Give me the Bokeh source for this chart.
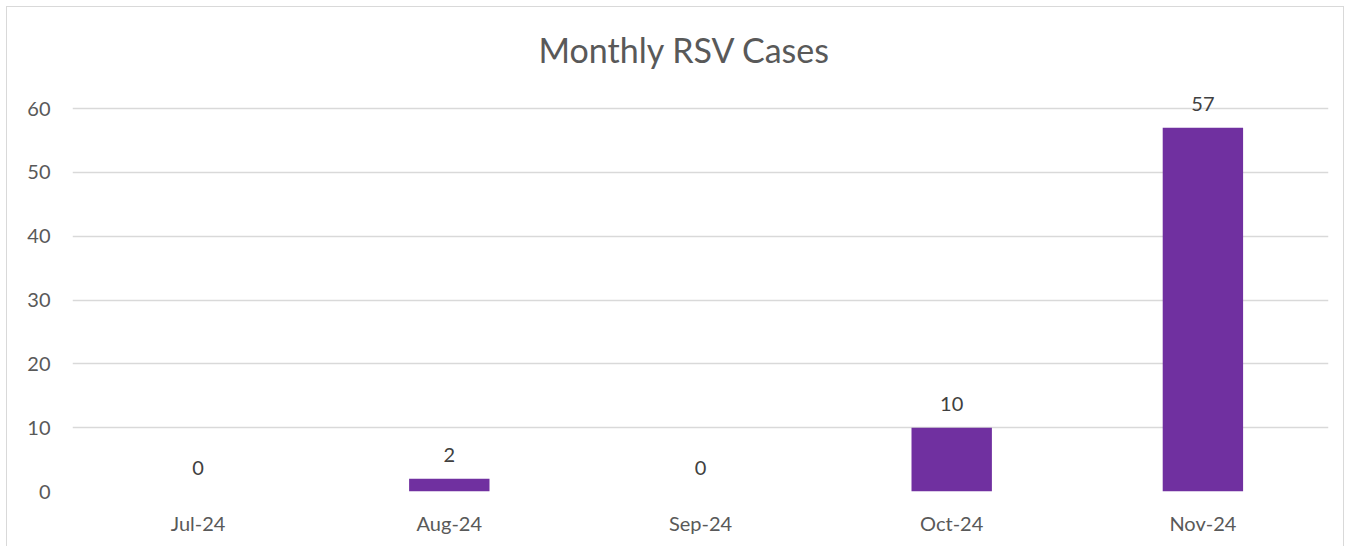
from bokeh.plotting import figure
from bokeh.models import ColumnDataSource, FactorRange, Range1d, FixedTicker, LabelSet, Title
from bokeh.core.properties import value
from bokeh.embed import file_html
from bokeh.resources import INLINE

months = ["Jul-24", "Aug-24", "Sep-24", "Oct-24", "Nov-24"]
cases = [0, 2, 0, 10, 57]
y_ticks = [0, 10, 20, 30, 40, 50, 60]

FONT = "Lato"
TXT = "#595959"

src = ColumnDataSource(dict(month=months, cases=cases, label=[str(c) for c in cases]))

p = figure(
    x_range=FactorRange(*months, range_padding=0),
    y_range=Range1d(0, 63),
    width=1338, height=540,
    output_backend="svg", toolbar_location=None, tools="",
    min_border_left=65, min_border_right=17, min_border_bottom=56, min_border_top=79,
)
p.styles = {"margin-left": "6px", "margin-top": "6px",
            "border-top": "1px solid #d9d9d9", "border-left": "1px solid #d9d9d9",
            "border-right": "1px solid #d9d9d9"}

t = Title(text="Monthly RSV Cases", align="left", text_font=FONT, text_font_size="34px",
          text_color=TXT, text_font_style="normal", standoff=39, offset=466)
p.add_layout(t, "above")

p.vbar(x="month", top="cases", width=0.32, source=src, fill_color="#7030A0", line_color=None)

labels = LabelSet(x="month", y="cases", text="label", source=src, y_offset=24,
                  text_align="center", text_baseline="middle", text_font=value(FONT),
                  text_font_size="20px", text_color="#404040")
p.add_layout(labels)

p.outline_line_color = None
p.xgrid.grid_line_color = None
p.ygrid.grid_line_color = "#d9d9d9"
p.ygrid.grid_line_width = 1.3
p.yaxis.ticker = FixedTicker(ticks=y_ticks)

for ax in (p.xaxis, p.yaxis):
    ax.axis_line_color = None
    ax.major_tick_line_color = None
    ax.minor_tick_line_color = None
    ax.major_tick_in = 0
    ax.major_tick_out = 0
    ax.major_label_text_font = FONT
    ax.major_label_text_font_size = "20px"
    ax.major_label_text_color = TXT
p.xaxis.major_label_standoff = 19
p.yaxis.major_label_standoff = 22
p.xaxis.group_text_font_size = "0px"

open("out.html", "w").write(file_html(p, INLINE))
